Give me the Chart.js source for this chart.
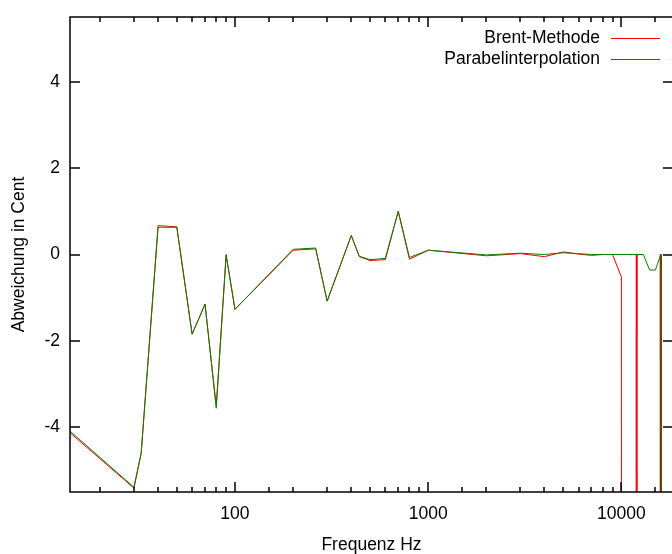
<!DOCTYPE html>
<html>
<head>
<meta charset="utf-8">
<script src="https://cdn.jsdelivr.net/npm/chart.js@4.4.0/dist/chart.umd.min.js"></script>
<style>
  html, body { margin: 0; padding: 0; background: #fff; overflow: hidden; }
  canvas { display: block; }
</style>
</head>
<body>
<canvas id="chart" width="680" height="554"></canvas>
<script>
// Messfrequenzen (Hz)
const freqs = [14, 30, 32.7, 40, 50, 60, 70, 80, 90, 100,
  200, 261.6, 300, 400, 440, 500, 600, 700, 800, 1000,
  2000, 3000, 4000, 5000, 6000, 7000, 8000, 9000,
  10000, 11000, 12000, 13000, 14000, 15000, 16000, 18000];

// Abweichung in Cent, Brent-Methode
const brent = [-4.13, -5.41, -4.6, 0.67, 0.64, -1.84, -1.15, -3.5, 0.0, -1.27,
  0.10, 0.13, -1.08, 0.44, -0.05, -0.14, -0.12, 1.0, -0.11, 0.10,
  -0.03, 0.02, -0.05, 0.06, 0.01, -0.02, 0.0, 0.0,
  -0.52, -1000, 0.0, -1000, -1000, -1000, 0.0, -1000];

// Abweichung in Cent, Parabelinterpolation
const parabel = [-4.09, -5.39, -4.6, 0.63, 0.63, -1.85, -1.15, -3.56, -0.02, -1.27,
  0.12, 0.15, -1.08, 0.44, -0.04, -0.12, -0.09, 1.0, -0.07, 0.10,
  -0.01, 0.03, 0.0, 0.04, 0.02, 0.0, 0.0, 0.0,
  0.0, 0.0, 0.0, 0.0, -0.36, -0.36, 0.0, -1000];

const xTickLabels = [100, 1000, 10000];
const yTicks = [-4, -2, 0, 2, 4];

const FONT = '"Liberation Sans", Arial, sans-serif';
Chart.defaults.font.family = FONT;
Chart.defaults.font.size = 17.5;
Chart.defaults.color = '#000';

// values far below the range (gnuplot draws them as vertical drops)
const offScale = v => v < -100;

// gnuplot style: frame, inward ticks on all four sides, legend top right
const gnuplotFrame = {
  id: 'gnuplotFrame',
  afterDatasetsDraw(chart) {
    const { ctx, chartArea: a, scales: { x, y } } = chart;
    ctx.save();
    ctx.strokeStyle = '#000';
    ctx.lineWidth = 1.5;
    ctx.beginPath();
    x.ticks.forEach(t => {
      if (t.value <= x.min || t.value >= x.max) return;
      const px = Math.round(x.getPixelForValue(t.value));
      const len = xTickLabels.includes(t.value) ? 10 : 5;
      ctx.moveTo(px, a.bottom); ctx.lineTo(px, a.bottom - len);
      ctx.moveTo(px, a.top); ctx.lineTo(px, a.top + len);
    });
    y.ticks.forEach(t => {
      const py = Math.round(y.getPixelForValue(t.value));
      ctx.moveTo(a.left, py); ctx.lineTo(a.left + 10, py);
      ctx.moveTo(a.right, py); ctx.lineTo(a.right - 10, py);
    });
    ctx.stroke();
    ctx.strokeRect(a.left, a.top, a.right - a.left, a.bottom - a.top);

    // legend
    ctx.font = '17.5px ' + FONT;
    ctx.fillStyle = '#000';
    ctx.textAlign = 'right';
    ctx.textBaseline = 'middle';
    ctx.lineWidth = 1;
    chart.data.datasets.forEach((ds, i) => {
      const ly = 38.5 + i * 21;
      ctx.fillText(ds.label, 600, ly);
      ctx.strokeStyle = ds.borderColor;
      ctx.beginPath();
      ctx.moveTo(611, ly);
      ctx.lineTo(660, ly);
      ctx.stroke();
    });
    ctx.restore();
  }
};

new Chart(document.getElementById('chart'), {
  type: 'line',
  data: {
    datasets: [{
      label: 'Brent-Methode',
      data: freqs.map((f, i) => ({ x: f, y: brent[i] })),
      borderColor: '#ff0000',
      borderWidth: 1,
      pointRadius: 0,
      order: 2,
      segment: {
        borderWidth: c => offScale(c.p0.parsed.y) ? 2 : 1
      }
    }, {
      label: 'Parabelinterpolation',
      data: freqs.map((f, i) => ({ x: f, y: parabel[i] })),
      borderColor: '#008000',
      borderWidth: 1,
      pointRadius: 0,
      order: 1,
      segment: {
        borderColor: c => offScale(c.p1.parsed.y) ? '#664400' : '#008000',
        borderWidth: c => offScale(c.p1.parsed.y) ? 2 : 1
      }
    }]
  },
  options: {
    responsive: false,
    animation: false,
    devicePixelRatio: 1,
    layout: { padding: { left: 0, top: 17, right: 7, bottom: 0 } },
    plugins: {
      legend: { display: false },
      tooltip: { enabled: false }
    },
    scales: {
      x: {
        type: 'logarithmic',
        min: 14,
        max: 18500,
        grid: { display: false },
        border: { display: false },
        ticks: {
          autoSkip: false,
          maxRotation: 0,
          padding: 4,
          callback: v => xTickLabels.includes(v) ? String(v) : ''
        },
        afterFit: scale => { scale.height = 62; },
        title: {
          display: true,
          text: 'Frequenz Hz',
          font: { lineHeight: 1 },
          padding: { top: 0, bottom: 0 }
        }
      },
      y: {
        type: 'linear',
        min: -5.5,
        max: 5.5,
        grid: { display: false },
        border: { display: false },
        ticks: {
          padding: 2,
          callback: v => String(v)
        },
        afterBuildTicks: scale => {
          scale.ticks = yTicks.map(v => ({ value: v }));
        },
        afterFit: scale => { scale.width = 70; },
        title: {
          display: true,
          text: 'Abweichung in Cent',
          font: { lineHeight: 1 },
          padding: { top: 10, bottom: 0 }
        }
      }
    }
  },
  plugins: [gnuplotFrame]
});
</script>
</body>
</html>
